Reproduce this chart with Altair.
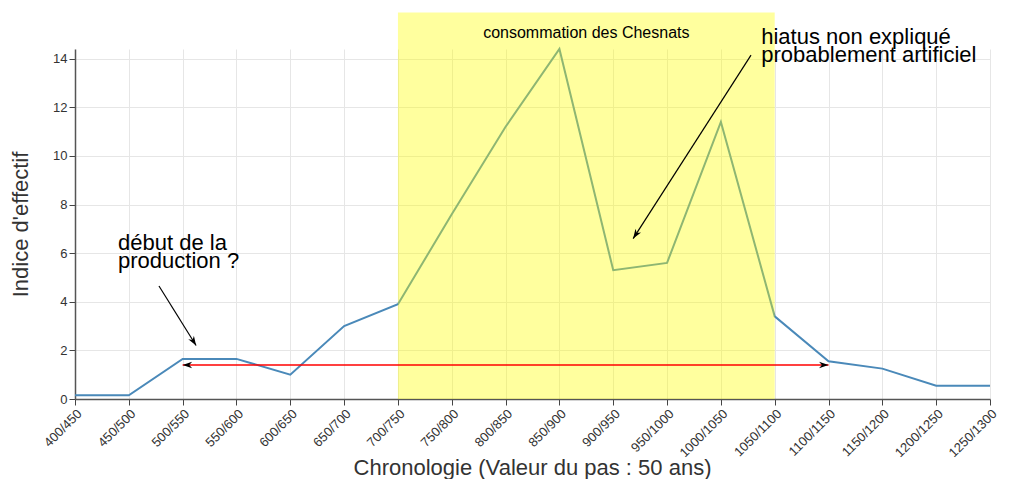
import json
import math
import altair as alt
import pandas as pd

# ---------------- data ----------------
labels = ["400/450", "450/500", "500/550", "550/600", "600/650", "650/700",
          "700/750", "750/800", "800/850", "850/900", "900/950", "950/1000",
          "1000/1050", "1050/1100", "1100/1150", "1150/1200", "1200/1250", "1250/1300"]
values = [0.15, 0.15, 1.65, 1.65, 1.0, 3.0, 3.9, 7.6, 11.2, 14.4, 5.3, 5.6,
          11.4, 3.4, 1.55, 1.25, 0.55, 0.55]
positions = list(range(len(labels)))

# shaded period
band_from = [6]
band_to = [13]
band_top = [15.9]
band_text = ["consommation des Chesnats"]
band_text_x = [9.5]
band_text_y = [14.85]

# red double arrow
span_x = [2, 14]
span_y = [1.4, 1.4]

# notes and their arrows
notes = ["début de la\nproduction ?", "hiatus non expliqué\nprobablement artificiel"]
note_x = [0.8, 12.75]
note_y = [6.13, 14.6]
arrow_x1 = [1.56, 12.56]
arrow_y1 = [4.65, 14.15]
arrow_x2 = [2.25, 10.37]
arrow_y2 = [2.2, 6.6]

Y_MAX = 14.4
W, H = 915, 350
FONT = "Liberation Sans"

# ---------------- scales / axes ----------------
xscale = alt.Scale(domain=[0, len(labels) - 1], nice=False, zero=False)
yscale = alt.Scale(domain=[0, Y_MAX], nice=False)
label_expr = json.dumps(labels) + "[datum.value]"

xaxis = alt.Axis(values=positions, labelExpr=label_expr, labelAngle=-45,
                 labelAlign="right", labelBaseline="top", labelFontSize=13,
                 labelFont=FONT, labelColor="#333", tickSize=6, tickColor="#444",
                 domainColor="#555", domainWidth=1.5, gridColor="#e6e6e6",
                 title="Chronologie (Valeur du pas : 50 ans)", titleFont=FONT,
                 titleFontSize=22, titleFontWeight="normal", titleColor="#333",
                 titleX=457, titleY=68, titleBaseline="middle", titleAlign="center")
yaxis = alt.Axis(values=[0, 2, 4, 6, 8, 10, 12, 14], labelFontSize=13, labelFont=FONT,
                 labelColor="#333", tickSize=6, tickColor="#444", domainColor="#555",
                 domainWidth=1.5, gridColor="#e6e6e6", title="Indice d'effectif",
                 titleFont=FONT, titleFontSize=22, titleFontWeight="normal",
                 titleColor="#333", titleX=-55, titleY=175, titleAngle=-90,
                 titleAlign="center", titleBaseline="middle")


def X(f):
    return alt.X(f, type="quantitative", scale=xscale, axis=xaxis)


def Y(f):
    return alt.Y(f, type="quantitative", scale=yscale, axis=yaxis)


# ---------------- layers ----------------
df = pd.DataFrame({"pos": positions, "val": values})
line = alt.Chart(df).mark_line(color="#4a89b9", strokeWidth=2).encode(x=X("pos"), y=Y("val"))

band_df = pd.DataFrame({"x": band_from, "x2": band_to, "y": [0], "y2": band_top})
band = alt.Chart(band_df).mark_rect(color="#ffff00", opacity=0.38, clip=False).encode(
    x=X("x"), x2="x2", y=Y("y"), y2="y2")

band_lbl_df = pd.DataFrame({"x": band_text_x, "y": band_text_y, "t": band_text})
band_lbl = alt.Chart(band_lbl_df).mark_text(font=FONT, fontSize=16, color="black",
                                            align="center", baseline="alphabetic").encode(
    x=X("x"), y=Y("y"), text="t")

span_df = pd.DataFrame({"x": [span_x[0]], "x2": [span_x[1]], "y": [span_y[0]]})
span = alt.Chart(span_df).mark_rule(color="red", strokeWidth=1.5).encode(
    x=X("x"), x2="x2", y=Y("y"))

# arrow heads (angles computed in screen space)
px_x = W / (len(labels) - 1)
px_y = H / Y_MAX
head_x, head_y, head_a = [], [], []
head_x += [span_x[0], span_x[1]]
head_y += [span_y[0], span_y[1]]
head_a += [180, 0]
for x1, y1, x2, y2 in zip(arrow_x1, arrow_y1, arrow_x2, arrow_y2):
    dx = (x2 - x1) * px_x
    dy = -(y2 - y1) * px_y
    head_x.append(x2)
    head_y.append(y2)
    head_a.append(math.degrees(math.atan2(dy, dx)) % 360)
heads_df = pd.DataFrame({"x": head_x, "y": head_y, "a": head_a})
heads = alt.Chart(heads_df).mark_point(
    shape="M0,0 L-2,-0.7 L-1.4,0 L-2,0.7 Z", filled=True, size=90, color="black",
    opacity=1, strokeWidth=0, clip=False).encode(
    x=X("x"), y=Y("y"), angle=alt.Angle("a:Q", scale=None))

arrows_df = pd.DataFrame({"x": arrow_x1, "y": arrow_y1, "x2": arrow_x2, "y2": arrow_y2})
arrows = alt.Chart(arrows_df).mark_rule(color="black", strokeWidth=1.2, clip=False).encode(
    x=X("x"), y=Y("y"), x2="x2", y2="y2")

notes_df = pd.DataFrame({"x": note_x, "y": note_y, "t": notes})
note_txt = alt.Chart(notes_df).mark_text(font=FONT, fontSize=22, color="black",
                                         align="left", baseline="alphabetic",
                                         lineBreak="\n", lineHeight=18).encode(
    x=X("x"), y=Y("y"), text="t")

chart = alt.layer(line, band, span, arrows, heads, band_lbl, note_txt).properties(
    width=W, height=H,
    autosize=alt.AutoSizeParams(type="none"),
    padding={"left": 67, "top": 41, "right": 20, "bottom": 80},
).configure_view(stroke=None).configure_axis(grid=True)

chart.save("out.html", embed_options={"renderer": "svg", "actions": False})
